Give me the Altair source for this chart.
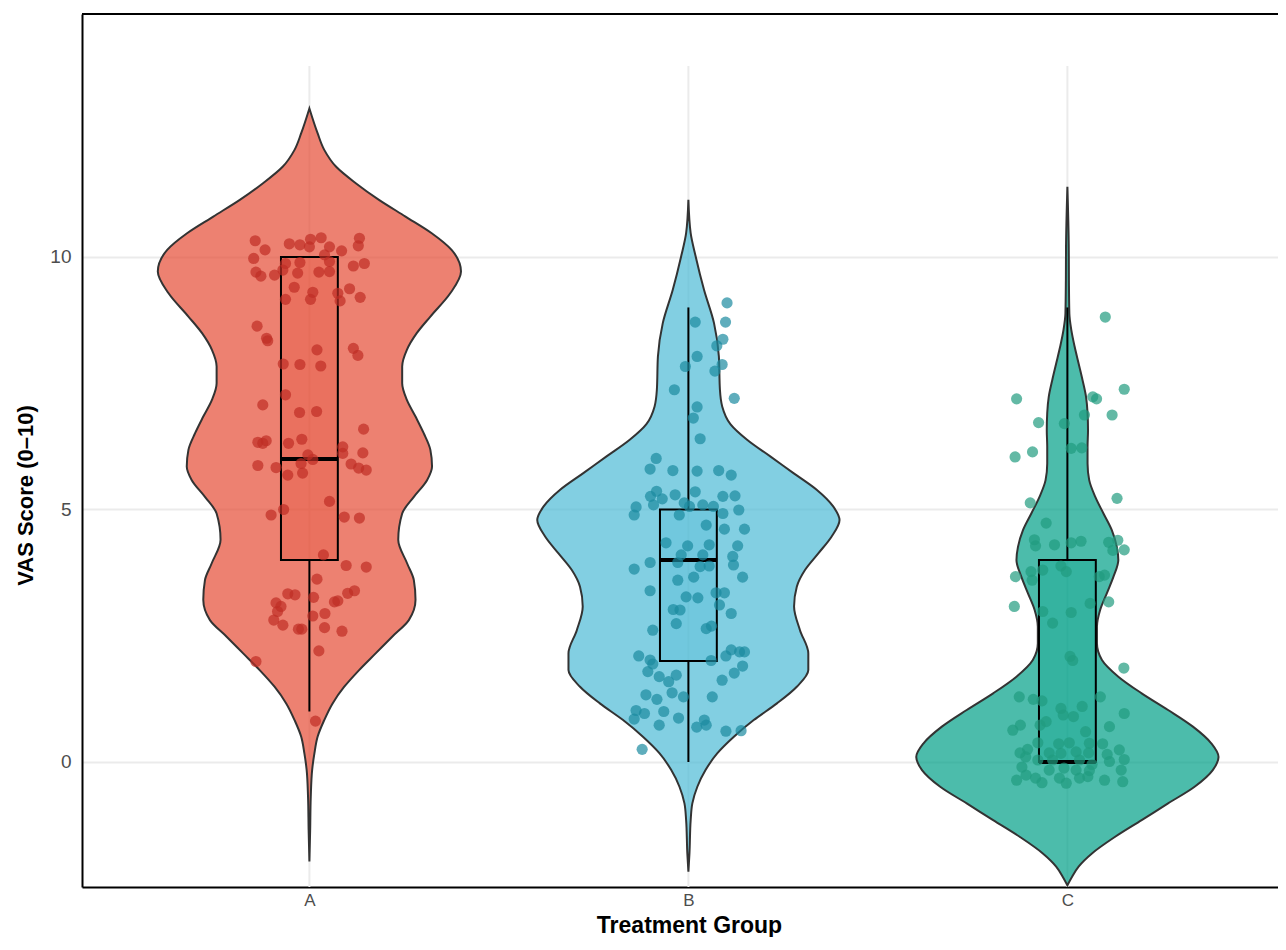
import altair as alt
import pandas as pd

# ---------------- data ----------------
groups = ["A", "B", "C"]
fill_colors = ["#E64B35", "#4DBBD5", "#00A087"]
point_colors = ["#BF2D25", "#1B8AA0", "#219B7F"]

y_ticks = [0, 5, 10]
y_domain = [-2.475, 14.81]
x_domain = [0.4, 3.5557]

# violin outlines: score value and relative density (1 = widest point)
A_vy = [-1.97, -1.35, -0.69, -0.16, 0.17, 0.50, 0.83, 1.16, 1.49, 1.82, 2.15, 2.48, 2.81, 3.21,
        3.60, 3.93, 4.40, 4.92, 5.25, 5.58, 5.85, 6.18, 6.51, 6.84, 7.17, 7.50, 7.83, 8.16, 8.49,
        8.82, 9.28, 9.71, 10.14, 10.47, 10.80, 11.13, 11.46, 11.79, 12.12, 12.45, 12.94]
A_vd = [0, .005, .009, .018, .033, .054, .098, .153, .230, .328, .437, .546, .656, .700,
        .689, .645, .586, .612, .689, .776, .809, .798, .754, .700, .643, .612, .612, .643, .708,
        .798, .929, 1.0, .938, .807, .634, .459, .306, .175, .098, .054, 0]
B_vy = [-2.17, -1.81, -1.15, -0.82, -0.49, -0.16, 0.17, 0.50, 0.83, 1.16, 1.49, 1.82, 2.15, 2.61,
        3.08, 3.47, 3.80, 4.13, 4.46, 4.79, 5.06, 5.39, 5.72, 6.05, 6.38, 6.69, 7.04, 7.37, 8.03,
        8.69, 9.35, 10.01, 10.47, 11.13]
B_vd = [0, .007, .015, .026, .059, .113, .190, .300, .431, .584, .715, .791, .791, .736,
        .697, .715, .769, .857, .944, .997, .955, .846, .693, .540, .387, .277, .223, .208, .201,
        .169, .103, .048, .015, 0]
C_vy = [-2.44, -2.27, -2.07, -1.81, -1.48, -1.15, -0.82, -0.49, -0.16, 0.10, 0.37, 0.70, 1.03,
        1.36, 1.69, 2.02, 2.35, 2.68, 3.01, 3.34, 3.67, 4.00, 4.26, 4.59, 4.92, 5.25, 5.58, 5.91,
        6.24, 6.57, 6.91, 7.23, 7.56, 7.89, 8.22, 8.55, 8.88, 9.54, 10.20, 11.39]
C_vd = [0, .031, .074, .162, .315, .490, .664, .839, .959, .997, .949, .828, .664,
        .490, .336, .228, .195, .195, .216, .260, .304, .336, .326, .293, .238, .184, .144, .133,
        .133, .136, .133, .123, .100, .074, .048, .026, .013, .010, .009, 0]

# box-plot statistics per group
q1 = [4, 2, 0]
med = [6, 4, 0]
q3 = [10, 5, 4]
w_lo = [1, 0, 0]
w_hi = [10, 9, 9]

# jittered points: horizontal jitter (% of category width) and score
A_jit = [-14.3, -11.7, -14.7, -14.1, -12.8, -5.3, -2.5, 0.3, 3.1, 0.0,
         5.3, 8.5, 13.2, 12.9, 11.6, 14.5, 4.0, 5.3, -2.5, -6.3,
         -7.0, -3.1, 2.5, 5.3, -9.2, -4.0, 0.9, -6.3, 0.3, 7.5,
         8.1, 10.6, 13.4, -13.8, -11.3, -11.0, 2.0, 11.6, 12.8, -6.9,
         -2.5, 3.0, -6.3, -12.3, -2.6, 1.9, 14.3, -13.6, -12.3, -11.4,
         -5.5, -2.0, 8.8, 8.8, 14.1, -0.4, 0.9, -2.2, -13.6, -8.8,
         11.0, 13.0, 15.0, -5.7, -1.8, 5.3, -6.8, -10.1, 9.2, 13.2,
         3.7, 9.7, 15.0, 2.0, -5.7, -3.8, 1.1, 10.1, 11.9, -8.8,
         -7.5, -8.4, 7.5, 6.6, 4.1, 0.9, -9.4, -7.0, -2.9, -2.0,
         4.0, 8.6, 2.5, -14.1, 1.6]
A_val = [10.32, 10.14, 9.97, 9.70, 9.62, 10.26, 10.24, 10.35, 10.38, 10.20,
         10.20, 10.12, 10.37, 10.22, 9.82, 9.87, 10.04, 9.91, 9.89, 9.87,
         9.74, 9.68, 9.70, 9.71, 9.64, 9.40, 9.30, 9.16, 9.16, 9.28,
         9.13, 9.37, 9.20, 8.63, 8.39, 8.34, 8.16, 8.19, 8.05, 7.88,
         7.87, 7.84, 7.27, 7.07, 6.92, 6.94, 6.59, 6.33, 6.31, 6.36,
         6.31, 6.39, 6.24, 6.11, 6.12, 6.08, 5.99, 5.91, 5.87, 5.83,
         5.90, 5.82, 5.78, 5.68, 5.72, 5.16, 5.00, 4.89, 4.85, 4.83,
         4.10, 3.89, 3.86, 3.62, 3.33, 3.31, 3.26, 3.34, 3.39, 3.15,
         3.08, 2.98, 3.19, 3.17, 2.94, 2.89, 2.81, 2.71, 2.63, 2.63,
         2.66, 2.59, 2.20, 1.99, 0.81]
B_jit = [10.2, 9.8, 1.8, 9.1, 7.5, 2.3, -0.8, 8.9, 7.0, -3.7,
         12.1, 2.3, 1.3, 3.1, -8.5, -10.1, -4.1, 2.3, 8.0, 11.3,
         -8.4, -10.0, -3.5, 1.8, 9.1, 12.3, -6.9, -9.2, -13.8, -1.1,
         0.3, 3.8, 6.6, 13.3, -14.3, -2.4, 9.1, 4.7, 9.5, 14.8,
         -5.9, -0.2, 5.5, 13.0, -1.9, 3.8, 11.7, -10.1, -14.3, -2.8,
         3.1, 5.5, 11.9, -2.8, 1.4, 14.3, -10.1, -0.6, 2.5, 7.3,
         9.5, 8.2, -4.0, -2.2, 11.3, -3.2, -9.4, 4.7, 6.1, -13.1,
         -10.1, -9.4, -10.7, -7.7, -3.2, -5.2, 6.0, 9.9, 11.3, 13.5,
         14.8, 14.3, 12.1, 8.9, -4.3, -1.3, 6.3, -11.2, -8.3, -13.8,
         -11.6, -14.3, -6.5, -2.6, -7.7, 4.2, 2.2, 4.7, 9.9, 13.9,
         -12.2]
B_val = [9.09, 8.71, 8.71, 8.37, 8.24, 8.03, 7.83, 7.87, 7.74, 7.37,
         7.20, 7.03, 6.81, 6.40, 6.01, 5.80, 5.77, 5.76, 5.77, 5.68,
         5.36, 5.26, 5.29, 5.35, 5.26, 5.27, 5.21, 5.09, 5.05, 5.13,
         5.06, 5.09, 5.06, 4.99, 4.89, 4.89, 4.92, 4.69, 4.61, 4.61,
         4.34, 4.28, 4.30, 4.28, 4.10, 4.10, 4.07, 3.95, 3.82, 3.95,
         3.87, 3.88, 3.90, 3.60, 3.66, 3.66, 3.39, 3.27, 3.25, 3.35,
         3.35, 3.11, 3.02, 3.01, 2.94, 2.74, 2.61, 2.64, 2.69, 2.10,
         2.02, 1.94, 1.79, 1.69, 1.72, 1.59, 2.01, 2.10, 2.22, 2.18,
         2.18, 1.90, 1.76, 1.62, 1.37, 1.29, 1.29, 1.33, 1.24, 1.02,
         0.96, 0.85, 1.00, 0.87, 0.73, 0.83, 0.69, 0.73, 0.61, 0.62,
         0.25]
C_jit = [10.0, 15.0, -13.4, 6.7, 7.7, 4.5, 11.8, -7.6, -0.8, -13.8,
         -9.2, 1.0, 3.8, -9.8, 13.1, -5.6, -8.7, -8.4, -3.4, 1.0,
         3.6, 10.9, 13.3, 12.0, 15.0, -13.7, -9.6, -9.3, -6.5, -1.7,
         -0.3, 8.4, 9.8, -14.0, -6.5, -3.9, 1.0, 6.0, 10.9, 0.7,
         1.4, 14.9, -12.7, -9.0, -6.7, -1.7, -1.1, 1.6, 3.9, 8.7,
         15.0, -14.4, -12.4, -7.2, -5.6, 4.8, 11.1, 9.3, 13.7, 15.0,
         -12.5, -10.5, -7.8, -7.8, -4.8, -2.3, 0.5, -1.7, 2.3, 5.8,
         5.6, 11.1, 14.2, -4.8, -0.9, 2.3, 5.8, -13.4, -10.9, -8.4,
         -6.7, -2.1, -0.3, 3.2, 5.4, 9.8, 14.6, -3.9, 3.2, -11.0,
         6.5, -12.0, 10.5]
C_val = [8.81, 7.38, 7.19, 7.23, 7.19, 6.87, 6.87, 6.72, 6.70, 6.04,
         6.14, 6.21, 6.22, 5.13, 5.22, 4.73, 4.40, 4.28, 4.30, 4.34,
         4.37, 4.35, 4.39, 4.19, 4.20, 3.67, 3.77, 3.60, 3.80, 3.88,
         3.77, 3.67, 3.70, 3.08, 2.98, 2.75, 2.96, 3.14, 3.17, 2.09,
         2.01, 1.86, 1.29, 1.24, 1.21, 1.06, 0.93, 0.90, 1.10, 1.29,
         0.96, 0.63, 0.73, 0.73, 0.80, 0.60, 0.70, 0.36, 0.24, 0.05,
         0.18, 0.25, 0.38, 0.04, 0.18, 0.36, 0.38, 0.17, 0.20, 0.37,
         0.18, 0.01, -0.16, -0.16, -0.12, -0.16, -0.17, -0.36, -0.26, -0.32,
         -0.41, -0.32, -0.42, -0.32, -0.29, -0.36, -0.39, 0.04, 0.04, 0.10,
         -0.05, -0.10, 0.15]

# ---------------- tables ----------------
violin_rows, point_rows = [], []
for i, g in enumerate(groups, start=1):
    vy, vd = {"A": (A_vy, A_vd), "B": (B_vy, B_vd), "C": (C_vy, C_vd)}[g]
    for y, d in zip(vy, vd, strict=True):
        violin_rows.append({"group": g, "pos": i, "value": y, "dens": d})
    pj, pv = {"A": (A_jit, A_val), "B": (B_jit, B_val), "C": (C_jit, C_val)}[g]
    for j, v in zip(pj, pv, strict=True):
        point_rows.append({"group": g, "pos": i, "jit": j, "value": v})
violin_df = pd.DataFrame(violin_rows)
points_df = pd.DataFrame(point_rows)
box_df = pd.DataFrame({"group": groups, "pos": [1, 2, 3], "q1": q1, "med": med,
                       "q3": q3, "lo": w_lo, "hi": w_hi})
groups_df = pd.DataFrame({"group": groups, "pos": [1, 2, 3]})

# ---------------- styling ----------------
W, H = 1196, 873
FONT = "Liberation Sans"
half_violin = 0.4
half_box = 0.075

xs = alt.Scale(domain=x_domain, nice=False, zero=False)
ys = alt.Scale(domain=y_domain, nice=False, zero=False)
fill_scale = alt.Scale(domain=groups, range=fill_colors)
pt_scale = alt.Scale(domain=groups, range=point_colors)

label_expr = "[''," + ",".join(f"'{g}'" for g in groups) + "][datum.value]"
x_axis = alt.Axis(values=[1, 2, 3], labelExpr=label_expr, title="Treatment Group",
                  grid=False, ticks=False, domain=True, domainColor="black", domainWidth=2,
                  labelFont=FONT, labelFontSize=17, labelColor="#4D4D4D", labelPadding=5,
                  titleFont=FONT, titleFontSize=23, titleFontWeight="bold", titleColor="black",
                  titleX=607, titleY=45, titleBaseline="alphabetic")
y_axis = alt.Axis(values=y_ticks, title="VAS Score (0–10)", grid=True, gridColor="#EBEBEB",
                  gridWidth=2, ticks=False, domain=True, domainColor="black", domainWidth=2,
                  labelFont=FONT, labelFontSize=19, labelColor="#4D4D4D", labelPadding=11,
                  titleFont=FONT, titleFontSize=22, titleFontWeight="bold", titleColor="black",
                  titleX=-57, titleY=481, titleBaseline="middle")

vgrid = alt.Chart(groups_df).mark_rule(color="#EBEBEB", strokeWidth=2).encode(
    x=alt.X("pos:Q", scale=xs, axis=x_axis),
    y=alt.value(52), y2=alt.value(H),
)

violin = alt.Chart(violin_df).transform_calculate(
    left=f"datum.pos - datum.dens * {half_violin}",
    right=f"datum.pos + datum.dens * {half_violin}",
).mark_area(orient="horizontal", interpolate="monotone", fillOpacity=0.7,
            stroke="#333333", strokeWidth=2).encode(
    y=alt.Y("value:Q", scale=ys, axis=y_axis),
    x=alt.X("left:Q", scale=xs, axis=x_axis, stack=None),
    x2="right:Q",
    color=alt.Color("group:N", scale=fill_scale, legend=None),
)

whisk_lo = alt.Chart(box_df).mark_rule(color="black", strokeWidth=2).encode(
    x=alt.X("pos:Q", scale=xs, axis=x_axis),
    y=alt.Y("lo:Q", scale=ys, axis=y_axis), y2="q1:Q",
)
whisk_hi = alt.Chart(box_df).mark_rule(color="black", strokeWidth=2).encode(
    x=alt.X("pos:Q", scale=xs, axis=x_axis),
    y=alt.Y("q3:Q", scale=ys, axis=y_axis), y2="hi:Q",
)
box_base = alt.Chart(box_df).transform_calculate(
    bl=f"datum.pos - {half_box}", br=f"datum.pos + {half_box}")
box = box_base.mark_rect(stroke="black", strokeWidth=2, fillOpacity=0.3).encode(
    x=alt.X("bl:Q", scale=xs, axis=x_axis), x2="br:Q",
    y=alt.Y("q1:Q", scale=ys, axis=y_axis), y2="q3:Q",
    color=alt.Color("group:N", scale=fill_scale, legend=None),
)
median = box_base.mark_rule(color="black", strokeWidth=4).encode(
    x=alt.X("bl:Q", scale=xs, axis=x_axis), x2="br:Q",
    y=alt.Y("med:Q", scale=ys, axis=y_axis),
)

points = alt.Chart(points_df).transform_calculate(
    px="datum.pos + datum.jit / 100"
).mark_circle(size=125, opacity=0.7).encode(
    x=alt.X("px:Q", scale=xs, axis=x_axis),
    y=alt.Y("value:Q", scale=ys, axis=y_axis),
    fill=alt.Fill("group:N", scale=pt_scale, legend=None),
)

top_line = alt.Chart(pd.DataFrame({"k": [0]})).mark_rule(color="black", strokeWidth=2).encode(
    x=alt.value(0), x2=alt.value(W), y=alt.value(0),
)

chart = alt.layer(vgrid, violin, whisk_lo, whisk_hi, box, median, points, top_line).properties(
    width=W, height=H,
    padding={"left": 74, "top": 6, "right": 0, "bottom": 50},
    autosize=alt.AutoSizeParams(type="none"),
    background="white",
).configure_view(stroke="transparent")

chart.save("out.html", embed_options={"renderer": "svg", "actions": False})
